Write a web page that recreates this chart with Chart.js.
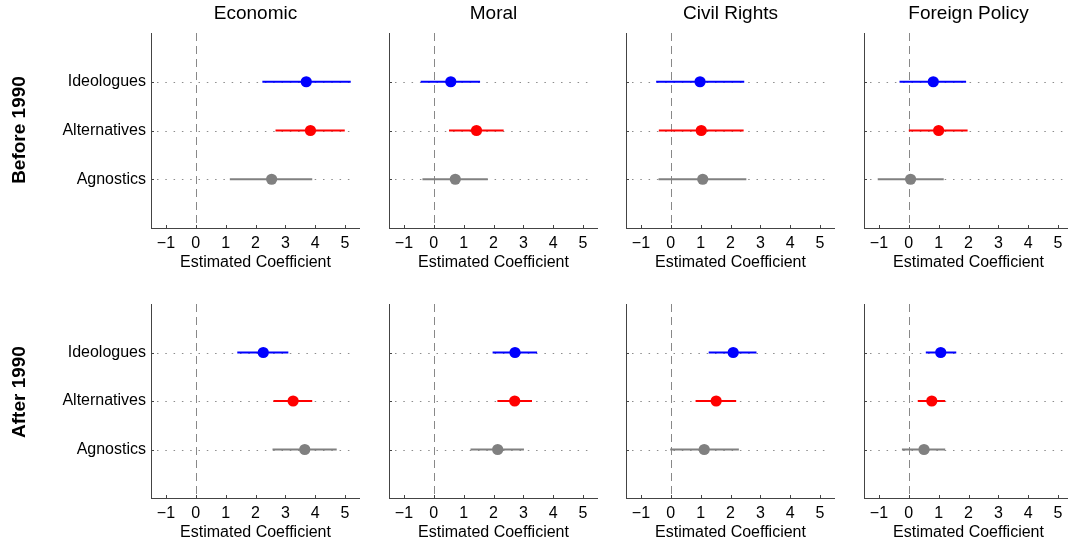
<!DOCTYPE html>
<html>
<head>
<meta charset="utf-8">
<script src="https://cdn.jsdelivr.net/npm/chart.js@4/dist/chart.umd.min.js"></script>
<style>
  html, body { margin: 0; padding: 0; background: #fff; width: 1068px; height: 546px; overflow: hidden; position: relative; }
  canvas { position: absolute; }
  .rowlab { position: absolute; font-family: "Liberation Sans", Arial, Helvetica, sans-serif; font-weight: bold; font-size: 19px; color: #000; white-space: nowrap; transform: translate(-50%, -50%) rotate(-90deg); }
</style>
</head>
<body>
<script>
// ---- data ----
const issues = ['Economic', 'Moral', 'Civil Rights', 'Foreign Policy'];
const periods = ['Before 1990', 'After 1990'];
const groups = ['Ideologues', 'Alternatives', 'Agnostics'];
const groupColors = ['#0000ff', '#ff0000', '#808080'];
const xTicks = [-1, 0, 1, 2, 3, 4, 5];
const xTitle = 'Estimated Coefficient';

// per issue: [Ideologues, Alternatives, Agnostics]
const estBefore  = [[3.70, 3.84, 2.54], [0.57, 1.43, 0.72], [0.98, 1.02, 1.07], [0.82, 1.00, 0.06]];
const lowBefore  = [[2.23, 2.67, 1.14], [-0.44, 0.51, -0.38], [-0.49, -0.40, -0.41], [-0.31, 0.00, -1.04]];
const highBefore = [[5.19, 4.99, 3.90], [1.55, 2.34, 1.81], [2.46, 2.44, 2.53], [1.92, 1.97, 1.17]];

const estAfter  = [[2.26, 3.26, 3.65], [2.72, 2.71, 2.14], [2.09, 1.52, 1.12], [1.07, 0.77, 0.51]];
const lowAfter  = [[1.39, 2.60, 2.57], [1.97, 2.13, 1.23], [1.27, 0.83, -0.02], [0.57, 0.30, -0.23]];
const highAfter = [[3.10, 3.90, 4.72], [3.46, 3.29, 3.02], [2.87, 2.19, 2.28], [1.59, 1.22, 1.22]];

const estAll = [estBefore, estAfter];
const lowAll = [lowBefore, lowAfter];
const highAll = [highBefore, highAfter];

// ---- layout ----
const FONT = '"Liberation Sans", Arial, Helvetica, sans-serif';
const colLeft = [151, 389, 626, 864];
const plotW = 209;
const rowTop = [33, 304];
const plotH = [195, 194];
const xAxisH = 50;
const AXIS_COLOR = '#444';

const refPlugin = {
  id: 'refLines',
  beforeDatasetsDraw(chart) {
    const { ctx, chartArea: a, scales: { x, y } } = chart;
    ctx.save();
    // dotted category guides
    ctx.strokeStyle = '#8c8c8c';
    ctx.lineWidth = 1;
    ctx.setLineDash([1.5, 6.8]);
    y.ticks.forEach(t => {
      const py = Math.round(y.getPixelForValue(t.value)) + 0.5;
      ctx.beginPath();
      ctx.moveTo(a.left + 6, py);
      ctx.lineTo(a.right - 4, py);
      ctx.stroke();
    });
    // dashed zero line
    ctx.strokeStyle = '#888';
    ctx.setLineDash([8, 5]);
    const px = Math.round(x.getPixelForValue(0)) + 0.5;
    ctx.beginPath();
    ctx.moveTo(px, a.top);
    ctx.lineTo(px, a.bottom);
    ctx.stroke();
    // inward ticks
    ctx.setLineDash([]);
    ctx.strokeStyle = AXIS_COLOR;
    x.ticks.forEach(t => {
      const tx = Math.round(x.getPixelForValue(t.value)) + 0.5;
      ctx.beginPath();
      ctx.moveTo(tx, a.bottom);
      ctx.lineTo(tx, a.bottom - 3);
      ctx.stroke();
    });
    y.ticks.forEach(t => {
      const ty = Math.round(y.getPixelForValue(t.value)) + 0.5;
      ctx.beginPath();
      ctx.moveTo(a.left, ty);
      ctx.lineTo(a.left + 3, ty);
      ctx.stroke();
    });
    ctx.restore();
  }
};

function makePanel(r, c) {
  const yw = c === 0 ? 151 : 10;
  const padTop = r === 0 ? 0 : 10;
  const titleH = r === 0 ? 33 : 0;
  const w = yw + plotW;
  const h = padTop + titleH + plotH[r] + xAxisH;
  const cv = document.createElement('canvas');
  cv.width = w; cv.height = h;
  cv.style.width = w + 'px'; cv.style.height = h + 'px';
  cv.style.left = (colLeft[c] - yw) + 'px';
  cv.style.top = (rowTop[r] - titleH - padTop) + 'px';
  document.body.appendChild(cv);

  const est = estAll[r][c], lo = lowAll[r][c], hi = highAll[r][c];
  const yPos = groups.map((g, i) => groups.length - i);
  const datasets = [];
  groups.forEach((g, i) => {
    datasets.push({
      type: 'line',
      data: [{ x: lo[i], y: yPos[i] }, { x: hi[i], y: yPos[i] }],
      borderColor: groupColors[i],
      borderWidth: 2,
      pointRadius: 0,
      pointHoverRadius: 0,
      fill: false,
      tension: 0
    });
  });
  datasets.push({
    type: 'scatter',
    data: groups.map((g, i) => ({ x: est[i], y: yPos[i] })),
    backgroundColor: groupColors,
    borderColor: groupColors,
    borderWidth: 0,
    pointRadius: 5.6,
    pointHoverRadius: 5.6
  });

  new Chart(cv, {
    data: { datasets },
    options: {
      responsive: false,
      animation: false,
      devicePixelRatio: 1,
      events: [],
      layout: { autoPadding: false, padding: { top: padTop, left: 0, right: 0, bottom: 0 } },
      plugins: {
        legend: { display: false },
        tooltip: { enabled: false },
        title: {
          display: r === 0,
          fullSize: false,
          text: issues[c],
          color: '#000',
          font: { family: FONT, size: 19, weight: 'normal', lineHeight: 1.2 },
          padding: { top: 2, bottom: 8.2 }
        }
      },
      scales: {
        x: {
          type: 'linear',
          min: -1.5, max: 5.5,
          afterBuildTicks: s => { s.ticks = xTicks.map(v => ({ value: v })); },
          afterFit: s => { s.height = xAxisH; s.paddingLeft = 0; s.paddingRight = 0; },
          grid: { display: false, drawTicks: false },
          border: { display: true, color: AXIS_COLOR, width: 1 },
          ticks: {
            color: '#000',
            padding: 6,
            maxRotation: 0,
            font: { family: FONT, size: 16 },
            callback: v => (v < 0 ? '\u2212' + Math.abs(v) : String(v))
          },
          title: {
            display: true,
            text: xTitle,
            color: '#000',
            font: { family: FONT, size: 16, lineHeight: 1.2 },
            padding: { top: 0, bottom: 5.4 }
          }
        },
        y: {
          type: 'linear',
          min: 0, max: groups.length + 1,
          afterBuildTicks: s => { s.ticks = yPos.map(v => ({ value: v })).reverse(); },
          afterFit: s => { s.width = yw; s.paddingTop = 0; s.paddingBottom = 0; },
          grid: { display: false, drawTicks: false },
          border: { display: true, color: AXIS_COLOR, width: 1 },
          ticks: {
            display: c === 0,
            color: '#000',
            padding: 5,
            font: { family: FONT, size: 16 },
            callback: v => groups[groups.length - v]
          }
        }
      }
    },
    plugins: [refPlugin]
  });
}

for (let r = 0; r < periods.length; r++) {
  for (let c = 0; c < issues.length; c++) makePanel(r, c);
}

const rowLabelCenters = [[19, 130], [19, 392]];
periods.forEach((p, r) => {
  const d = document.createElement('div');
  d.className = 'rowlab';
  d.textContent = p;
  d.style.left = rowLabelCenters[r][0] + 'px';
  d.style.top = rowLabelCenters[r][1] + 'px';
  document.body.appendChild(d);
});
</script>
</body>
</html>
